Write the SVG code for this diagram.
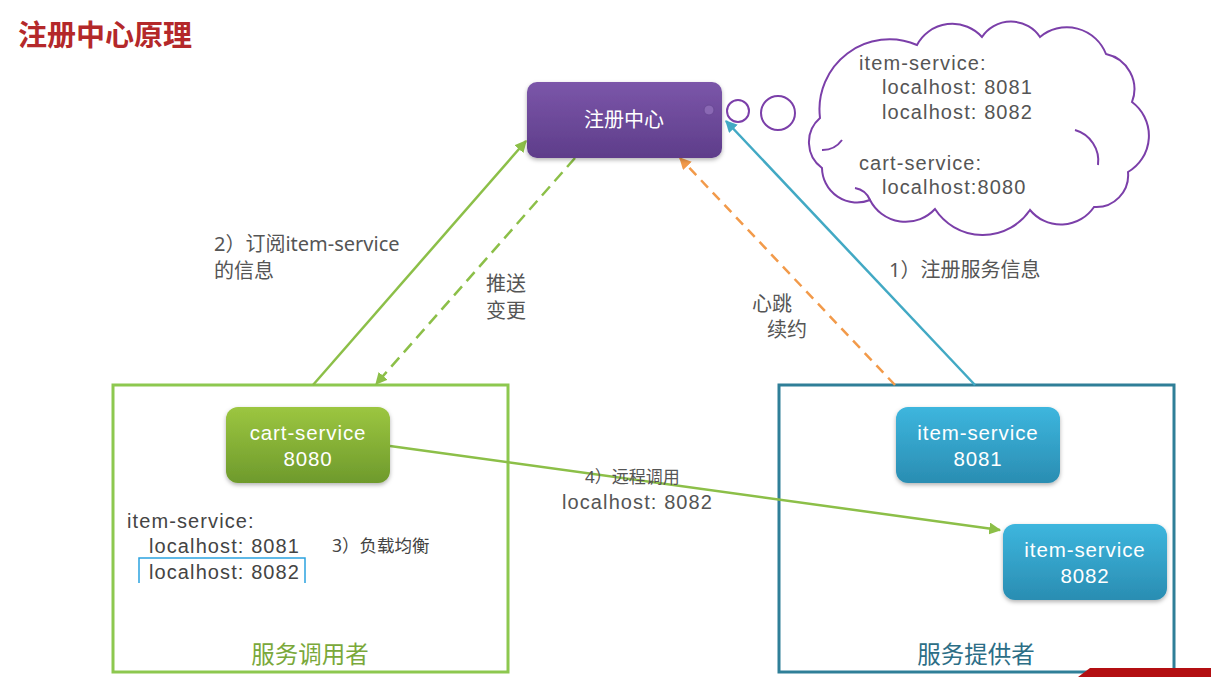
<svg xmlns="http://www.w3.org/2000/svg" width="1211" height="677" viewBox="0 0 1211 677">
<style>
.t{font-family:"Noto Sans","Noto Sans CJK SC",sans-serif;fill:#555}
.l{font-family:"Liberation Sans","Noto Sans CJK SC",sans-serif;fill:#555;letter-spacing:1.1px}
.w{font-family:"Liberation Sans","Noto Sans CJK SC",sans-serif;fill:#fff;text-anchor:middle;letter-spacing:0.9px}
.c{fill:none;stroke:#7b3fa9;stroke-width:2}
</style>
<defs>
<linearGradient id="gp" x1="0" y1="0" x2="0" y2="1"><stop offset="0" stop-color="#7b56a9"/><stop offset="1" stop-color="#5e3d8a"/></linearGradient>
<linearGradient id="gg" x1="0" y1="0" x2="0" y2="1"><stop offset="0" stop-color="#9cc640"/><stop offset="1" stop-color="#6e9a2c"/></linearGradient>
<linearGradient id="gb" x1="0" y1="0" x2="0" y2="1"><stop offset="0" stop-color="#3db6de"/><stop offset="1" stop-color="#2a8db2"/></linearGradient>
<filter id="sh" x="-10%" y="-10%" width="125%" height="135%"><feDropShadow dx="0" dy="2" stdDeviation="2" flood-color="#000" flood-opacity="0.3"/></filter>
<marker id="mg" viewBox="0 0 10 10" refX="9" refY="5" markerWidth="12" markerHeight="12" markerUnits="userSpaceOnUse" orient="auto"><path d="M0,0 L10,5 L0,10 z" fill="#8cbf48"/></marker>
<marker id="mo" viewBox="0 0 10 10" refX="9" refY="5" markerWidth="12" markerHeight="12" markerUnits="userSpaceOnUse" orient="auto"><path d="M0,0 L10,5 L0,10 z" fill="#f29a4a"/></marker>
<marker id="mb" viewBox="0 0 10 10" refX="9" refY="5" markerWidth="12" markerHeight="12" markerUnits="userSpaceOnUse" orient="auto"><path d="M0,0 L10,5 L0,10 z" fill="#42a9c4"/></marker>
</defs>
<rect width="1211" height="677" fill="#fff"/>
<text x="18" y="46" font-family="'Noto Sans CJK SC',sans-serif" font-size="29" font-weight="bold" fill="#b4282a">注册中心原理</text>

<g id="consumer-box">
<rect x="113" y="385" width="395" height="287" fill="none" stroke="#8dc84f" stroke-width="3"/>
<text class="t" x="310" y="663" font-size="23.5" text-anchor="middle" style="fill:#7aa83a">服务调用者</text>
</g>
<g id="provider-box">
<rect x="779" y="385" width="395" height="287" fill="none" stroke="#2f7f98" stroke-width="3"/>
<text class="t" x="976" y="663" font-size="23.5" text-anchor="middle" style="fill:#2c6e86">服务提供者</text>
</g>

<g id="connectors" fill="none">
<line x1="313" y1="385" x2="526" y2="141" stroke="#8cbf48" stroke-width="2.5" marker-end="url(#mg)"/>
<line x1="575" y1="158" x2="376" y2="384" stroke="#8cbf48" stroke-width="2.5" stroke-dasharray="12,7" marker-end="url(#mg)"/>
<line x1="895" y1="385" x2="680" y2="158" stroke="#f29a4a" stroke-width="2.5" stroke-dasharray="10,7" marker-end="url(#mo)"/>
<line x1="975" y1="385" x2="726" y2="121" stroke="#42a9c4" stroke-width="2.5" marker-end="url(#mb)"/>
<line x1="390" y1="446" x2="1000" y2="530" stroke="#8cbf48" stroke-width="2.5" marker-end="url(#mg)"/>
</g>

<g id="registry">
<rect x="527" y="82" width="195" height="76" rx="10" fill="url(#gp)" filter="url(#sh)"/>
<circle cx="709" cy="110" r="5" fill="#8a68b4" stroke="#6a4a96" stroke-width="1"/>
<text class="w" x="624" y="127" font-size="20" style="letter-spacing:0">注册中心</text>
</g>

<g id="cloud">
<circle class="c" cx="738" cy="111" r="11"/>
<circle class="c" cx="778" cy="113" r="17"/>
<path class="c" d="M820,118 A70,70 0 0 1 917,45 A40,40 0 0 1 982,37 A35,35 0 0 1 1040,37 A42,42 0 0 1 1106,54 A36,36 0 0 1 1132,102 A42,42 0 0 1 1128,172 A32,32 0 0 1 1094,207 A40,40 0 0 1 1030,210 A57,57 0 0 1 935,209 A40,40 0 0 1 870,200 A35,35 0 0 1 822,168 A32,32 0 0 1 820,118 Z"/>
<path class="c" d="M1075,130 A32,32 0 0 1 1098,165"/>
<path class="c" d="M842,140 A24,24 0 0 1 822,150"/>
<path class="c" d="M855,188 A20,20 0 0 1 870,200"/>
<text class="l" x="859" y="70" font-size="20">item-service:</text>
<text class="l" x="882" y="94" font-size="20">localhost: 8081</text>
<text class="l" x="882" y="119" font-size="20">localhost: 8082</text>
<text class="l" x="859" y="170" font-size="20">cart-service:</text>
<text class="l" x="882" y="194" font-size="20">localhost:8080</text>
</g>

<g id="cart-service">
<rect x="226" y="407" width="164" height="76" rx="12" fill="url(#gg)" filter="url(#sh)"/>
<text class="w" x="308" y="440" font-size="20.5">cart-service</text>
<text class="w" x="308" y="466" font-size="20.5">8080</text>
</g>
<g id="item-service-8081">
<rect x="896" y="407" width="164" height="76" rx="12" fill="url(#gb)" filter="url(#sh)"/>
<text class="w" x="978" y="440" font-size="20.5">item-service</text>
<text class="w" x="978" y="466" font-size="20.5">8081</text>
</g>
<g id="item-service-8082">
<rect x="1003" y="524" width="164" height="76" rx="12" fill="url(#gb)" filter="url(#sh)"/>
<text class="w" x="1085" y="557" font-size="20.5">item-service</text>
<text class="w" x="1085" y="583" font-size="20.5">8082</text>
</g>

<g id="local-list">
<text class="l" x="127" y="528" font-size="20" style="fill:#444">item-service:</text>
<text class="l" x="149" y="553" font-size="20" style="fill:#444">localhost: 8081</text>
<text class="l" x="149" y="579" font-size="20" style="fill:#444">localhost: 8082</text>
<polyline points="139,583 139,558 305,558 305,583" fill="none" stroke="#2ba3e0" stroke-width="1.5"/>
<text class="t" x="332" y="552" font-size="17.5" style="fill:#444">3）负载均衡</text>
</g>

<g id="labels">
<text class="t" font-size="20"><tspan x="214" y="251">2）订阅item-service</tspan><tspan x="214" y="278">的信息</tspan></text>
<text class="t" font-size="20"><tspan x="486" y="291">推送</tspan><tspan x="486" y="318">变更</tspan></text>
<text class="t" font-size="20"><tspan x="752" y="311">心跳</tspan><tspan x="767" y="337">续约</tspan></text>
<text class="t" x="889" y="277" font-size="20">1）注册服务信息</text>
<text class="t" x="585" y="483" font-size="17">4）远程调用</text>
<text class="l" x="562" y="509" font-size="20">localhost: 8082</text>
</g>
<polygon points="1078,677 1090,668 1211,668 1211,677" fill="#b30f12"/>
</svg>
